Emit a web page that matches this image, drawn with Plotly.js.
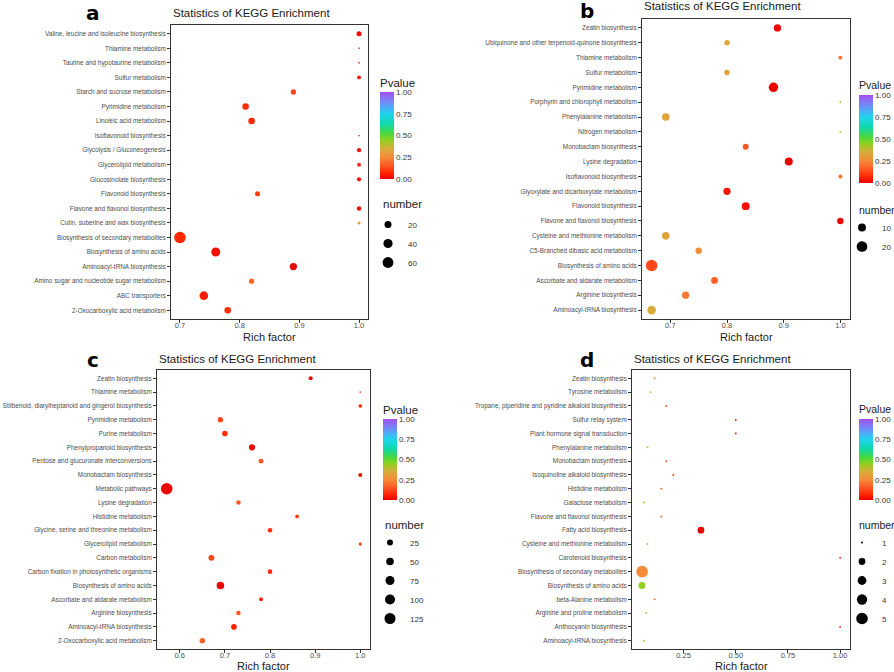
<!DOCTYPE html>
<html><head><meta charset="utf-8">
<script src="https://cdn.plot.ly/plotly-3.0.1.min.js"></script>
<style>html,body{margin:0;padding:0;background:#fff}#chart{width:894px;height:672px}</style>
</head><body><div id="chart"></div>
<script>
// ---------- Panel a ----------
const termsA = ["Valine, leucine and isoleucine biosynthesis","Thiamine metabolism","Taurine and hypotaurine metabolism","Sulfur metabolism","Starch and sucrose metabolism","Pyrimidine metabolism","Linoleic acid metabolism","Isoflavonoid biosynthesis","Glycolysis / Gluconeogenesis","Glycerolipid metabolism","Glucosinolate biosynthesis","Flavonoid biosynthesis","Flavone and flavonol biosynthesis","Cutin, suberine and wax biosynthesis","Biosynthesis of secondary metabolites","Biosynthesis of amino acids","Aminoacyl-tRNA biosynthesis","Amino sugar and nucleotide sugar metabolism","ABC transporters","2-Oxocarboxylic acid metabolism"];
const richA = [1.0,1.0,1.0,1.0,0.89,0.81,0.82,1.0,1.0,1.0,1.0,0.83,1.0,1.0,0.70,0.76,0.89,0.82,0.74,0.78];
const countA = [8,1,1,4,9,17,17,1,5,4,5,8,6,2,70,38,22,9,35,17];
const pA = [0.02,0.15,0.15,0.05,0.12,0.08,0.07,0.15,0.04,0.08,0.04,0.10,0.03,0.30,0.07,0.03,0.005,0.18,0.05,0.08];
const legendA = [20,40,60];

// ---------- Panel b ----------
const termsB = ["Zeatin biosynthesis","Ubiquinone and other terpenoid-quinone biosynthesis","Thiamine metabolism","Sulfur metabolism","Pyrimidine metabolism","Porphyrin and chlorophyll metabolism","Phenylalanine metabolism","Nitrogen metabolism","Monobactam biosynthesis","Lysine degradation","Isoflavonoid biosynthesis","Glyoxylate and dicarboxylate metabolism","Flavonoid biosynthesis","Flavone and flavonol biosynthesis","Cysteine and methionine metabolism","C5-Branched dibasic acid metabolism","Biosynthesis of amino acids","Ascorbate and aldarate metabolism","Arginine biosynthesis","Aminoacyl-tRNA biosynthesis"];
const richB = [0.889,0.80,1.0,0.80,0.882,1.0,0.692,1.0,0.833,0.909,1.0,0.80,0.833,1.0,0.692,0.75,0.667,0.778,0.727,0.667];
const countB = [8,4,2,4,15,1,9,1,5,10,2,8,10,6,9,6,24,7,8,12];
const pB = [0.02,0.33,0.20,0.33,0.005,0.35,0.32,0.38,0.15,0.01,0.20,0.04,0.03,0.01,0.32,0.27,0.13,0.17,0.22,0.35];
const legendB = [10,20];

// ---------- Panel c ----------
const termsC = ["Zeatin biosynthesis","Thiamine metabolism","Stilbenoid, diarylheptanoid and gingerol biosynthesis","Pyrimidine metabolism","Purine metabolism","Phenylpropanoid biosynthesis","Pentose and glucuronate interconversions","Monobactam biosynthesis","Metabolic pathways","Lysine degradation","Histidine metabolism","Glycine, serine and threonine metabolism","Glycerolipid metabolism","Carbon metabolism","Carbon fixation in photosynthetic organisms","Biosynthesis of amino acids","Ascorbate and aldarate metabolism","Arginine biosynthesis","Aminoacyl-tRNA biosynthesis","2-Oxocarboxylic acid metabolism"];
const richC = [0.89,1.0,1.0,0.69,0.70,0.76,0.78,1.0,0.571,0.73,0.86,0.80,1.0,0.67,0.80,0.69,0.78,0.73,0.72,0.65];
const countC = [8,1,5,18,21,28,14,7,140,11,6,12,3,24,12,48,7,11,21,20];
const pC = [0.02,0.15,0.05,0.12,0.08,0.02,0.15,0.02,0.01,0.15,0.10,0.08,0.08,0.12,0.08,0.005,0.06,0.15,0.06,0.18];
const legendC = [25,50,75,100,125];

// ---------- Panel d ----------
const termsD = ["Zeatin biosynthesis","Tyrosine metabolism","Tropane, piperidine and pyridine alkaloid biosynthesis","Sulfur relay system","Plant hormone signal transduction","Phenylalanine metabolism","Monobactam biosynthesis","Isoquinoline alkaloid biosynthesis","Histidine metabolism","Galactose metabolism","Flavone and flavonol biosynthesis","Fatty acid biosynthesis","Cysteine and methionine metabolism","Carotenoid biosynthesis","Biosynthesis of secondary metabolites","Biosynthesis of amino acids","beta-Alanine metabolism","Arginine and proline metabolism","Anthocyanin biosynthesis","Aminoacyl-tRNA biosynthesis"];
const richD = [0.111,0.091,0.167,0.5,0.5,0.077,0.167,0.2,0.143,0.059,0.143,0.333,0.077,1.0,0.051,0.05,0.111,0.071,1.0,0.059];
const countD = [1,1,1,1,1,1,1,1,1,1,1,2,1,1,5,2,1,1,1,1];
const pD = [0.25,0.40,0.15,0.05,0.05,0.38,0.15,0.10,0.20,0.40,0.20,0.005,0.40,0.10,0.25,0.45,0.20,0.38,0.08,0.40];
const legendD = [1,2,3,4,5];

const panelLetters = ["a","b","c","d"];
const titleText = "Statistics of KEGG Enrichment";
const xTitle = "Rich factor";
const sizeTitle = "number";
const pTicks = [0,0.25,0.5,0.75,1];

// ---------- styling ----------
const W = 894, H = 672;
const FONT = "'Liberation Sans', Arial, sans-serif";
const CS = [[0,'#E80000'],[0.06,'#FF2000'],[0.15,'#FF5522'],[0.25,'#F58A38'],[0.35,'#D8AC3A'],[0.45,'#8FD020'],[0.52,'#4CD83A'],[0.63,'#10D8A8'],[0.75,'#20D4F0'],[0.87,'#6A92F8'],[1,'#A450F0']];
const U = 1.93; // px per ggplot size unit

function sizer(counts){
  const mn = Math.min(...counts), mx = Math.max(...counts);
  return n => U*(1 + 5*Math.sqrt(Math.max(0,(n-mn))/(mx-mn)));
}

// pixel boxes: [left, right, top, bottom]
const boxes = [[171,368,25,319],[642,850,19,319],[157,370,370,649],[632,850,370,649]];
const xr = [[0.685,1.015],[0.650,1.017],[0.5495,1.0215],[0.0025,1.0475]];
const xt = [[0.7,0.8,0.9,1.0],[0.7,0.8,0.9,1.0],[0.6,0.7,0.8,0.9,1.0],[0.25,0.5,0.75,1.0]];
const xfmt = ['.1f','.1f','.1f','.2f'];
const xTitleY = [337,337,666,666];
const cbPos = [[380,75,104,11.5],[859,78,105,10.5],[383,402,98,11.5],[859,402,98,10.5]];
const lgPos = [[368,210],[842,213],[370,528],[842,528]];
const lgTitle = [[381,204,11.5],[857,210,10.5],[383,525,11.5],[857,525,10.5]];
const letterPos = [[93,13],[587,11],[93,360],[587,360]];
const titlePos = [[171,13],[642,6],[157,359],[632,359]];

const panels = [
  {terms:termsA, rich:richA, count:countA, p:pA, leg:legendA},
  {terms:termsB, rich:richB, count:countB, p:pB, leg:legendB},
  {terms:termsC, rich:richC, count:countC, p:pC, leg:legendC},
  {terms:termsD, rich:richD, count:countD, p:pD, leg:legendD}
];

const data = [];
const layout = {
  width:W, height:H, margin:{l:0,r:0,t:0,b:0,autoexpand:false},
  paper_bgcolor:'#fff', plot_bgcolor:'#fff',
  font:{family:FONT, color:'#4D4D4D', size:8},
  showlegend:true, annotations:[]
};

panels.forEach((pn,i)=>{
  const k = i===0 ? '' : String(i+1);
  const sz = sizer(pn.count);
  const [l,r,t,b] = boxes[i];
  data.push({
    type:'scatter', mode:'markers', x:pn.rich, y:pn.terms,
    xaxis:'x'+k, yaxis:'y'+k, showlegend:false, hoverinfo:'x+y',
    marker:{size:pn.count.map(sz), sizemode:'diameter', color:pn.p, coloraxis:'coloraxis'+k, opacity:1, line:{width:0}}
  });
  pn.leg.forEach(v=>{
    data.push({
      type:'scatter', mode:'markers', x:[null], y:[null], xaxis:'x'+k, yaxis:'y'+k,
      name:String(v), legend:'legend'+k, showlegend:true,
      marker:{size:sz(v), color:'#000', line:{width:0}}
    });
  });
  layout['xaxis'+k] = {
    domain:[l/W, r/W], anchor:'y'+k, range:xr[i], tickvals:xt[i], tickformat:xfmt[i],
    showgrid:false, zeroline:false, showline:true, mirror:true, linecolor:'#333', linewidth:1,
    ticks:'outside', ticklen:3, tickcolor:'#333', tickfont:{size:7.5, color:'#4D4D4D'},
    ticklabelstandoff:-4
  };
  layout['yaxis'+k] = {
    domain:[1-b/H, 1-t/H], anchor:'x'+k, type:'category', range:[pn.terms.length-0.4, -0.6],
    showgrid:false, zeroline:false, showline:true, mirror:true, linecolor:'#333', linewidth:1,
    ticks:'outside', ticklen:3, tickcolor:'#333', tickfont:{size:6.4, color:'#4D4D4D'}
  };
  const [cx,cy,cl,cf] = cbPos[i];
  layout['coloraxis'+k] = {
    cmin:0, cmax:1, colorscale:CS,
    colorbar:{x:cx/W, xanchor:'left', xpad:0, y:1-cy/H, yanchor:'top', ypad:0,
      len:cl, lenmode:'pixels', thickness:14, outlinewidth:0,
      tickvals:pTicks, tickformat:'.2f', ticks:'', tickfont:{size:8, color:'#333'},
      title:{text:'Pvalue', side:'top', font:{size:cf, color:'#222'}}}
  };
  const [lx,ly] = lgPos[i];
  layout['legend'+k] = {
    x:lx/W, xanchor:'left', y:1-ly/H, yanchor:'top', bgcolor:'rgba(0,0,0,0)',
    font:{size:8, color:'#333'}, itemclick:false, itemdoubleclick:false
  };
  layout.annotations.push({
    xref:'paper', yref:'paper', x:lgTitle[i][0]/W, y:1-lgTitle[i][1]/H,
    text:sizeTitle, showarrow:false, xanchor:'left', yanchor:'middle',
    font:{size:lgTitle[i][2], color:'#222'}
  });
  layout.annotations.push({
    xref:'paper', yref:'paper', x:letterPos[i][0]/W, y:1-letterPos[i][1]/H,
    text:'<b>'+panelLetters[i]+'</b>', showarrow:false, xanchor:'center', yanchor:'middle',
    font:{family:"'DejaVu Sans', Arial, sans-serif", size:20, color:'#000'}
  });
  layout.annotations.push({
    xref:'paper', yref:'paper', x:titlePos[i][0]/W, y:1-titlePos[i][1]/H,
    text:titleText, showarrow:false, xanchor:'left', yanchor:'middle',
    font:{size:11.5, color:'#1a1a1a'}
  });
  layout.annotations.push({
    xref:'paper', yref:'paper', x:(l+r)/2/W, y:1-xTitleY[i]/H,
    text:xTitle, showarrow:false, xanchor:'center', yanchor:'middle',
    font:{size:11, color:'#1a1a1a'}
  });
});

Plotly.newPlot('chart', data, layout, {displayModeBar:false, staticPlot:true});
</script></body></html>
